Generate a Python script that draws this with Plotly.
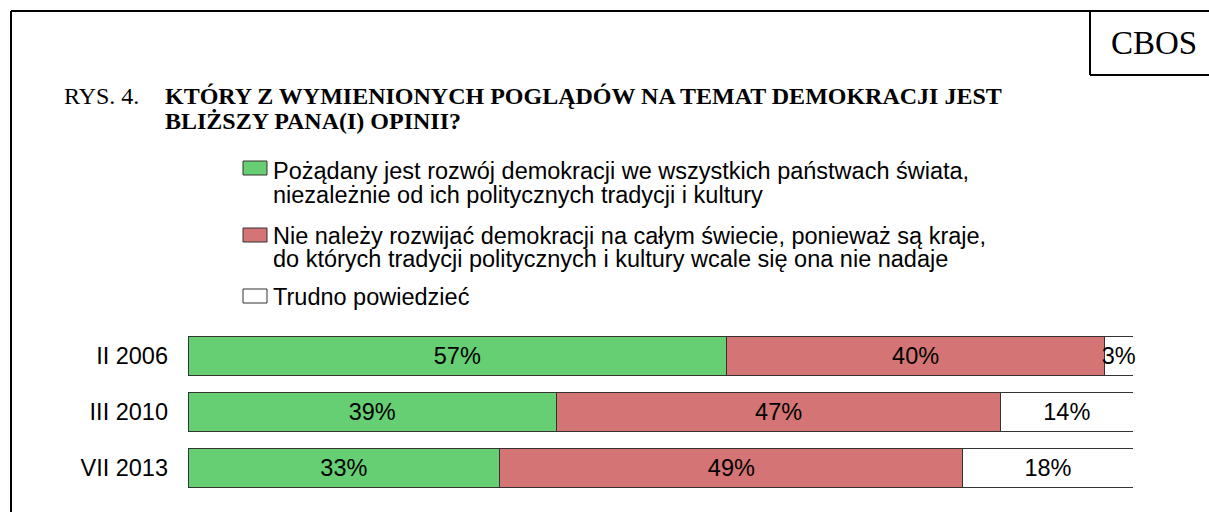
import plotly.graph_objects as go

W, H = 1209, 512

categories = ["II 2006", "III 2010", "VII 2013"]
series_names = [
    "Pożądany jest rozwój demokracji we wszystkich państwach świata,<br>niezależnie od ich politycznych tradycji i kultury",
    "Nie należy rozwijać demokracji na całym świecie, ponieważ są kraje,<br>do których tradycji politycznych i kultury wcale się ona nie nadaje",
    "Trudno powiedzieć",
]
desirable = [57, 39, 33]
not_desirable = [40, 47, 49]
hard_to_say = [3, 14, 18]
colors = ["#66CF73", "#D47474", "#FFFFFF"]

series = [desirable, not_desirable, hard_to_say]

SANS = "Liberation Sans, Arial"
SERIF = "Liberation Serif, Times New Roman"

fig = go.Figure()
for vals, col, name in zip(series, colors, series_names):
    fig.add_trace(go.Bar(
        y=categories, x=vals, orientation="h", name=name,
        marker=dict(color=col, line=dict(color="#333333", width=1)),
        text=[f"{v}%" for v in vals], textposition="inside", textangle=0,
        insidetextanchor="middle", cliponaxis=False, constraintext="none",
        textfont=dict(family=SANS, size=23.5, color="black"),
        showlegend=False, hoverinfo="skip",
    ))

def py(px):
    return 1 - px / H

def pxx(px):
    return px / W

fig.update_layout(
    width=W, height=H, barmode="stack", bargap=0.3,
    margin=dict(l=0, r=0, t=0, b=0),
    paper_bgcolor="white", plot_bgcolor="white",
    uniformtext=dict(minsize=23.5, mode="show"),
    xaxis=dict(domain=[pxx(188), pxx(1133)], range=[0, 100], visible=False, fixedrange=True),
    yaxis=dict(domain=[py(496), py(328)], autorange="reversed", showgrid=False,
               showline=False, zeroline=False, ticks="", ticklabelstandoff=19,
               tickfont=dict(family=SANS, size=23.5, color="black")),
    font=dict(family=SANS, color="black"),
)

# frame and CBOS box
line = dict(color="black", width=2)
shapes = [
    dict(type="line", xref="paper", yref="paper", x0=pxx(11), x1=1, y0=py(11), y1=py(11), line=line),
    dict(type="line", xref="paper", yref="paper", x0=pxx(11), x1=pxx(11), y0=py(11), y1=0, line=line),
    dict(type="line", xref="paper", yref="paper", x0=pxx(1090), x1=pxx(1090), y0=py(11), y1=py(75), line=line),
    dict(type="line", xref="paper", yref="paper", x0=pxx(1090), x1=1, y0=py(75), y1=py(75), line=line),
]

annotations = [
    dict(text="CBOS", x=pxx(1154), y=py(43), xanchor="center", yanchor="middle",
         font=dict(family=SERIF, size=33, color="black")),
    dict(text="RYS. 4.", x=pxx(62), y=py(96), xanchor="left", yanchor="middle",
         font=dict(family=SERIF, size=24, color="black")),
    dict(text="<b>KTÓRY Z WYMIENIONYCH POGLĄDÓW NA TEMAT DEMOKRACJI JEST</b>", x=pxx(163), y=py(96),
         xanchor="left", yanchor="middle",
         font=dict(family=SERIF, size=24, color="black")),
    dict(text="<b>BLIŻSZY PANA(I) OPINII?</b>", x=pxx(163), y=py(121),
         xanchor="left", yanchor="middle",
         font=dict(family=SERIF, size=24, color="black")),
]

# custom legend
legend_rows = [(168, [171, 195]), (235, [236, 259]), (296, [297])]
for (rect_c, line_ys), col, name in zip(legend_rows, colors, series_names):
    shapes.append(dict(type="rect", xref="paper", yref="paper",
                       x0=pxx(243), x1=pxx(267), y0=py(rect_c - 7), y1=py(rect_c + 7),
                       fillcolor=col, line=dict(color="#333333", width=1)))
    for ly, txt in zip(line_ys, name.split("<br>")):
        annotations.append(dict(text=txt, x=pxx(272), y=py(ly), xanchor="left", yanchor="middle",
                                borderpad=0,
                                font=dict(family=SANS, size=23.5, color="black")))

for a in annotations:
    a.update(xref="paper", yref="paper", showarrow=False)

fig.update_layout(shapes=shapes, annotations=annotations)
fig.write_html("out.html", config={"displayModeBar": False},
               post_script="document.body.style.margin='0px';")
